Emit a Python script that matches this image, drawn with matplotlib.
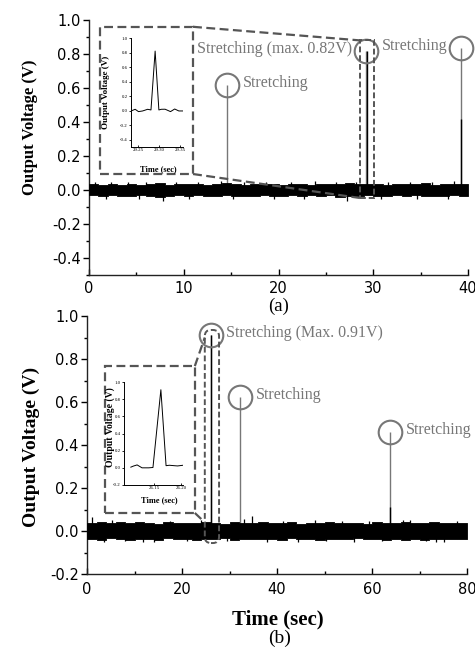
import numpy as np
import matplotlib
matplotlib.use("Agg")
import matplotlib.pyplot as plt
from matplotlib.patches import Rectangle, FancyBboxPatch

# ---------------- data ----------------
# (a) 0-40 s : noise envelope per 1-s bin (V)
noise_a_hi = [0.035, 0.030, 0.038, 0.032, 0.036, 0.030, 0.034, 0.040, 0.031, 0.036,
              0.033, 0.038, 0.030, 0.035, 0.042, 0.034, 0.031, 0.037, 0.033, 0.036,
              0.030, 0.038, 0.034, 0.032, 0.037, 0.035, 0.033, 0.040, 0.036, 0.034,
              0.038, 0.031, 0.036, 0.033, 0.035, 0.039, 0.032, 0.036, 0.034, 0.037]
noise_a_lo = [-0.032, -0.036, -0.030, -0.034, -0.038, -0.031, -0.035, -0.040, -0.033, -0.030,
              -0.036, -0.032, -0.038, -0.034, -0.030, -0.037, -0.033, -0.035, -0.031, -0.036,
              -0.034, -0.030, -0.038, -0.032, -0.035, -0.031, -0.040, -0.036, -0.033, -0.030,
              -0.035, -0.038, -0.032, -0.034, -0.031, -0.036, -0.033, -0.037, -0.032, -0.035]
spike_a_t = [0.6, 1.8, 2.3, 4.1, 5.3, 6.0, 7.8, 9.2, 10.6, 11.5, 13.9, 15.2, 16.4, 18.7,
             19.5, 21.3, 22.7, 23.8, 26.1, 27.2, 28.2, 30.8, 31.6, 33.9, 34.6, 36.2, 37.9, 38.5]
spike_a_v = [0.050, -0.050, 0.048, 0.045, -0.052, 0.050, -0.062, 0.046, -0.050, 0.050, 0.055,
             -0.055, 0.048, 0.050, -0.050, 0.046, -0.053, 0.052, 0.048, -0.062, 0.050, -0.050,
             0.047, 0.050, -0.055, 0.046, -0.050, 0.052]
event_a_t = [29.29, 39.3]          # voltage peaks drawn in the trace
event_a_v = [0.82, 0.42]
mark_a_t = [14.6, 29.25, 39.3]      # circled "Stretching" marks
mark_a_v = [0.62, 0.82, 0.835]
mark_a_txt = ["Stretching", "Stretching (max. 0.82V)", "Stretching"]
mark_a_side = ["right", "left", "left"]

# inset (a)
ins_a_t = [29.234, 29.242, 29.250, 29.260, 29.272, 29.280, 29.290, 29.299,
           29.305, 29.314, 29.327, 29.337, 29.347, 29.357]
ins_a_v = [0.000, 0.019, -0.013, -0.004, 0.019, 0.010, 0.820, 0.010,
           0.019, 0.020, -0.013, 0.023, -0.004, -0.004]

# (b) 0-80 s : noise envelope per 2-s bin (V)
noise_b_hi = [0.038, 0.042, 0.035, 0.040, 0.036, 0.041, 0.037, 0.034, 0.040, 0.036,
              0.039, 0.035, 0.042, 0.037, 0.034, 0.040, 0.036, 0.038, 0.041, 0.035,
              0.037, 0.040, 0.034, 0.038, 0.036, 0.041, 0.035, 0.039, 0.037, 0.034,
              0.040, 0.036, 0.038, 0.042, 0.035, 0.037, 0.040, 0.036, 0.038, 0.035]
noise_b_lo = [-0.036, -0.040, -0.034, -0.038, -0.042, -0.035, -0.037, -0.040, -0.034, -0.039,
              -0.036, -0.041, -0.035, -0.038, -0.034, -0.040, -0.036, -0.039, -0.035, -0.037,
              -0.041, -0.034, -0.038, -0.036, -0.040, -0.035, -0.037, -0.039, -0.034, -0.038,
              -0.036, -0.040, -0.035, -0.042, -0.037, -0.040, -0.036, -0.038, -0.035, -0.037]
spike_b_t = [1.0, 3.5, 5.2, 8.0, 11.8, 14.1, 17.5, 21.0, 24.0, 29.5, 33.0, 34.7, 37.8, 41.2,
             44.5, 47.9, 50.3, 53.6, 56.2, 59.4, 62.0, 66.5, 68.0, 71.3, 73.5, 75.2, 77.8]
spike_b_v = [0.065, -0.050, 0.050, -0.048, -0.052, -0.050, 0.048, -0.046, 0.050, -0.048,
             0.055, 0.070, -0.050, 0.048, -0.052, 0.050, -0.048, 0.046, -0.050, 0.048,
             -0.046, 0.052, 0.050, -0.048, -0.052, -0.050, 0.048]
event_b_t = [26.16, 63.8]
event_b_v = [0.91, 0.11]
mark_b_t = [26.0, 32.2, 63.8]
mark_b_v = [0.91, 0.623, 0.46]
mark_b_txt = ["Stretching (Max. 0.91V)", "Stretching", "Stretching"]
mark_b_side = ["right", "right", "right"]

# inset (b)
ins_b_t = [26.1075, 26.112, 26.119, 26.128, 26.140, 26.148, 26.1625, 26.172,
           26.178, 26.187, 26.193, 26.203]
ins_b_v = [0.008, 0.020, 0.034, 0.000, 0.000, 0.004, 0.910, 0.025,
           0.030, 0.025, 0.022, 0.030]

# ---------------- style ----------------
SERIF = ["Liberation Serif", "DejaVu Serif"]
SANS = ["DejaVu Sans"]
GRAY = "#777777"
DASH = "#555555"
plt.rcParams["font.family"] = SANS

fig = plt.figure(figsize=(4.75, 6.54), dpi=100)
W, H = 475.0, 654.0


def px_axes(l, r, t, b):
    return fig.add_axes([l / W, 1 - b / H, (r - l) / W, (b - t) / H])


def style_main(ax, xmax, xmaj, xmin_, ylo, xpad):
    ax.set_xlim(0, xmax)
    ax.set_ylim(ylo, 1.0)
    for s in ("top", "right"):
        ax.spines[s].set_visible(False)
    for s in ("left", "bottom"):
        ax.spines[s].set_linewidth(1.0)
        ax.spines[s].set_color("#222222")
    ax.set_xticks(np.arange(0, xmax + 0.1, xmaj))
    ax.set_xticks(np.arange(0, xmax + 0.1, xmin_), minor=True)
    ax.set_yticks(np.round(np.arange(ylo, 1.0001, 0.1), 2), minor=True)
    ax.yaxis.set_major_formatter(plt.FuncFormatter(lambda v, p: f"{v:.1f}"))
    ax.tick_params(axis="x", which="major", direction="in", length=4, width=1, pad=xpad, labelsize=10.5)
    ax.tick_params(axis="x", which="minor", direction="in", length=2, width=1)
    ax.tick_params(axis="y", which="major", direction="out", length=4, width=1, pad=2, labelsize=10.5)
    ax.tick_params(axis="y", which="minor", direction="out", length=2, width=1)


def draw_trace(ax, xmax, hi, lo, st, sv, et, ev):
    edges = np.linspace(0, xmax, len(hi) + 1)
    ax.fill_between(edges, list(lo) + [lo[-1]], list(hi) + [hi[-1]], step="post",
                    color="black", lw=0.6, edgecolor="black", zorder=3)
    ax.vlines(st, 0, sv, color="black", lw=0.9, zorder=3)
    ax.vlines(et, 0, ev, color="black", lw=1.0, zorder=4)


def draw_marks(ax, mt, mv, txt, side, fs):
    ax.vlines(mt, 0, mv, color=GRAY, lw=1.0, zorder=2)
    ax.plot(mt, mv, "o", ms=17, mfc="none", mec=GRAY, mew=1.5, zorder=5, clip_on=False)
    for t, v, s, sd in zip(mt, mv, txt, side):
        dx = 16 if sd == "right" else -14
        ax.annotate(s, (t, v), xytext=(dx, 2), textcoords="offset pixels",
                    ha="left" if sd == "right" else "right", va="center",
                    color=GRAY, fontsize=fs, family=SERIF, annotation_clip=False)


def style_inset(ax, xlim, ylim, yt, xt, xtl):
    ax.set_xlim(*xlim)
    ax.set_ylim(*ylim)
    for s in ("top", "right"):
        ax.spines[s].set_visible(False)
    for s in ("left", "bottom"):
        ax.spines[s].set_linewidth(0.7)
    ax.set_yticks(yt)
    ax.set_yticklabels([f"{v:.1f}" for v in yt])
    ax.set_xticks(xt)
    ax.set_xticklabels(xtl)
    ax.tick_params(axis="both", labelsize=3.5, length=1.5, width=0.6, pad=1)
    ax.tick_params(axis="x", direction="in")
    for lab in ax.get_xticklabels() + ax.get_yticklabels():
        lab.set_family(SERIF)


# ---------------- panel (a) ----------------
axa = px_axes(89, 468, 20, 275)
style_main(axa, 40, 10, 5, -0.5, 4)
axa.set_yticks(np.round(np.arange(-0.4, 1.0001, 0.2), 2))
draw_marks(axa, mark_a_t, mark_a_v, mark_a_txt, mark_a_side, 11.5)
draw_trace(axa, 40, noise_a_hi, noise_a_lo, spike_a_t, spike_a_v, event_a_t, event_a_v)

# zoom framing
axa.add_patch(Rectangle((1.16, 0.094), 9.82, 0.866, fill=False, ec=DASH, lw=1.6,
                        ls=(0, (4, 2)), zorder=6))
axa.add_patch(Rectangle((28.6, -0.047), 1.5, 0.927, fill=False, ec=DASH, lw=1.4,
                        ls=(0, (3, 1.5)), zorder=6))
axa.plot([10.98, 28.6], [0.96, 0.88], color=DASH, lw=1.6, ls=(0, (4, 2)), zorder=6)
axa.plot([10.98, 28.6], [0.094, -0.047], color=DASH, lw=1.6, ls=(0, (4, 2)), zorder=6)

fig.text(30 / W, 1 - 127 / H, "Output Voltage (V)", rotation=90, ha="center", va="center",
         family=SERIF, weight="bold", fontsize=12)
fig.text(279 / W, 1 - 306 / H, "(a)", ha="center", va="center", family=SERIF, fontsize=13.5)

ina = px_axes(131, 183, 38, 147)
ina.plot(ins_a_t, ins_a_v, color="black", lw=0.7)
style_inset(ina, (29.232, 29.357), (-0.5, 1.0), [-0.4, -0.2, 0.0, 0.2, 0.4, 0.6, 0.8, 1.0],
            [29.25, 29.30, 29.35], ["29.25", "29.30", "29.35"])
fig.text(106 / W, 1 - 92 / H, "Output Voltage (V)", rotation=90, ha="center", va="center",
         family=SERIF, weight="bold", fontsize=6.5)
fig.text(158 / W, 1 - 169 / H, "Time (sec)", ha="center", va="center",
         family=SERIF, weight="bold", fontsize=6)

# ---------------- panel (b) ----------------
axb = px_axes(87, 467, 316, 574)
style_main(axb, 80, 20, 10, -0.2, 6)
axb.set_yticks(np.round(np.arange(-0.2, 1.0001, 0.2), 2))
draw_marks(axb, mark_b_t, mark_b_v, mark_b_txt, mark_b_side, 11.5)
draw_trace(axb, 80, noise_b_hi, noise_b_lo, spike_b_t, spike_b_v, event_b_t, event_b_v)

axb.add_patch(Rectangle((3.8, 0.084), 18.9, 0.683, fill=False, ec=DASH, lw=1.6,
                        ls=(0, (4, 2)), zorder=6))
axb.add_patch(FancyBboxPatch((24.8, -0.056), 3.0, 0.991,
                             boxstyle="round,pad=0,rounding_size=1.3",
                             mutation_aspect=4.75 / 215, fill=False, ec=DASH, lw=1.4,
                             ls=(0, (3, 1.5)), zorder=6, clip_on=False))
axb.plot([22.7, 24.8], [0.767, 0.90], color=DASH, lw=1.6, ls=(0, (4, 2)), zorder=6)
axb.plot([22.7, 24.8], [0.084, 0.04], color=DASH, lw=1.6, ls=(0, (4, 2)), zorder=6)

fig.text(31 / W, 1 - 447 / H, "Output Voltage (V)", rotation=90, ha="center", va="center",
         family=SERIF, weight="bold", fontsize=14)
fig.text(278 / W, 1 - 619 / H, "Time (sec)", ha="center", va="center",
         family=SERIF, weight="bold", fontsize=15)
fig.text(280 / W, 1 - 638 / H, "(b)", ha="center", va="center", family=SERIF, fontsize=14)

inb = px_axes(124, 183, 382, 485)
inb.plot(ins_b_t, ins_b_v, color="black", lw=0.7)
style_inset(inb, (26.095, 26.203), (-0.2, 1.0), [-0.2, 0.0, 0.2, 0.4, 0.6, 0.8, 1.0],
            [26.15, 26.20], ["26.15", "26.20"])
fig.text(110 / W, 1 - 427 / H, "Output Voltage (V)", rotation=90, ha="center", va="center",
         family=SERIF, weight="bold", fontsize=7)
fig.text(159 / W, 1 - 500 / H, "Time (sec)", ha="center", va="center",
         family=SERIF, weight="bold", fontsize=6)

fig.savefig("out.png", dpi=100)
